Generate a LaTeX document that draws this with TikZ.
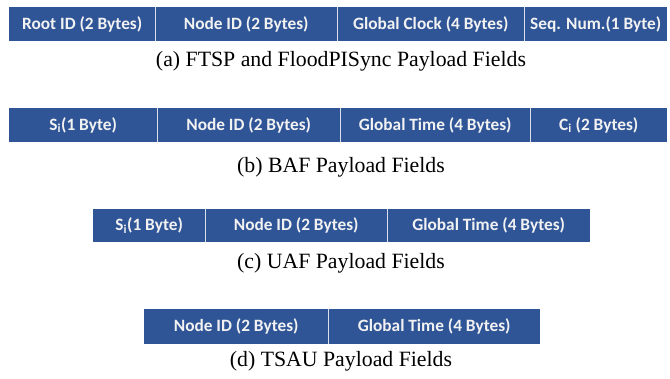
\documentclass[tikz,border=0pt]{standalone}
\usepackage{fontspec}
\setmainfont{Liberation Serif}
\newfontfamily\fieldfont{Carlito}
\definecolor{fieldblue}{HTML}{2F5597}
\definecolor{fieldtext}{HTML}{F2F2F2}
\definecolor{divline}{HTML}{DADFEA}
\tikzset{
  field/.style={fill=fieldblue, text=fieldtext, inner sep=0pt, anchor=north west,
    font=\fieldfont\bfseries\fontsize{17.3}{20}\selectfont},
  divider/.style={draw=divline, line width=1.6pt},
  caption/.style={inner sep=0pt, font=\fontsize{21.8}{24}\selectfont}
}
\newcommand{\sub}[1]{\textsubscript{#1}}
\begin{document}
\begin{tikzpicture}[x=1pt,y=-1pt]
\useasboundingbox[fill=white] (0,0) rectangle (670,378);

% (a) FTSP and FloodPISync
\node[field, minimum width=146pt, minimum height=34pt] (a1) at (9,7) {Root ID (2 Bytes)};
\node[field, minimum width=182pt, minimum height=34pt] (a2) at (155,7) {Node ID (2 Bytes)};
\node[field, minimum width=187pt, minimum height=34pt] (a3) at (337,7) {Global Clock (4 Bytes)};
\node[field, minimum width=143pt, minimum height=34pt] (a4) at (524,7) {Seq. Num.(1 Byte)};
\draw[divider] (a1.north east) -- (a1.south east);
\draw[divider] (a2.north east) -- (a2.south east);
\draw[divider] (a3.north east) -- (a3.south east);
\node[caption] (capa) at (341,61.5) {(a) FTSP and FloodPISync Payload Fields};

% (b) BAF
\node[field, minimum width=148pt, minimum height=34pt] (b1) at (9,108) {S\sub{i}(1 Byte)};
\node[field, minimum width=183pt, minimum height=34pt] (b2) at (157,108) {Node ID (2 Bytes)};
\node[field, minimum width=190pt, minimum height=34pt] (b3) at (340,108) {Global Time (4 Bytes)};
\node[field, minimum width=137pt, minimum height=34pt] (b4) at (530,108) {C\sub{i} (2 Bytes)};
\draw[divider] (b1.north east) -- (b1.south east);
\draw[divider] (b2.north east) -- (b2.south east);
\draw[divider] (b3.north east) -- (b3.south east);
\node[caption] (capb) at (341,167) {(b) BAF Payload Fields};

% (c) UAF
\node[field, minimum width=112pt, minimum height=33pt] (c1) at (93,209) {S\sub{i}(1 Byte)};
\node[field, minimum width=182pt, minimum height=33pt] (c2) at (205,209) {Node ID (2 Bytes)};
\node[field, minimum width=203pt, minimum height=33pt] (c3) at (387,209) {Global Time (4 Bytes)};
\draw[divider] (c1.north east) -- (c1.south east);
\draw[divider] (c2.north east) -- (c2.south east);
\node[caption] (capc) at (341,263.5) {(c) UAF Payload Fields};

% (d) TSAU
\node[field, minimum width=184pt, minimum height=35pt] (d1) at (144,309) {Node ID (2 Bytes)};
\node[field, minimum width=212pt, minimum height=35pt] (d2) at (328,309) {Global Time (4 Bytes)};
\draw[divider] (d1.north east) -- (d1.south east);
\node[caption] (capd) at (341,361.5) {(d) TSAU Payload Fields};
\end{tikzpicture}
\end{document}
